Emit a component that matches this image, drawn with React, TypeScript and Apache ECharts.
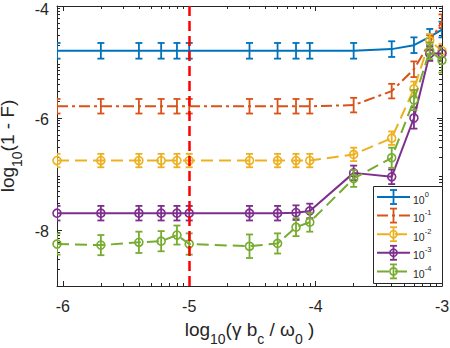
import React, { useEffect, useRef } from 'react';
import * as echarts from 'echarts';

// x positions: log10(gamma b_c / omega_0)
const X_VALUES = [-6.046, -5.699, -5.398, -5.222, -5.097, -5, -4.523, -4.301, -4.155, -4.046, -3.699, -3.398, -3.222, -3.097, -3];

// log10(1 - F) per series (legend 10^0 ... 10^-4)
const Y_E0 = [-4.8, -4.8, -4.8, -4.8, -4.8, -4.8, -4.8, -4.8, -4.8, -4.8, -4.8, -4.77, -4.7, -4.55, -4.42];
const ERR_E0 = [0.14, 0.14, 0.14, 0.14, 0.14, 0.14, 0.14, 0.14, 0.14, 0.14, 0.14, 0.14, 0.14, 0.14, 0.14];

const Y_E1 = [-5.79, -5.79, -5.79, -5.79, -5.79, -5.79, -5.79, -5.79, -5.79, -5.79, -5.77, -5.52, -5.13, -4.65, -4.27];
const ERR_E1 = [0.13, 0.13, 0.13, 0.13, 0.13, 0.13, 0.13, 0.13, 0.13, 0.13, 0.13, 0.13, 0.14, 0.13, 0.12];

const Y_E2 = [-6.76, -6.76, -6.76, -6.76, -6.76, -6.76, -6.76, -6.76, -6.76, -6.76, -6.65, -6.36, -5.48, -4.62, -4.8];
const ERR_E2 = [0.12, 0.12, 0.12, 0.12, 0.12, 0.12, 0.12, 0.12, 0.12, 0.12, 0.12, 0.12, 0.13, 0.12, 0.12];

const Y_E3 = [-7.7, -7.7, -7.7, -7.7, -7.7, -7.7, -7.7, -7.7, -7.69, -7.66, -6.98, -7.05, -6.0, -4.85, -4.85];
const ERR_E3 = [0.13, 0.13, 0.13, 0.13, 0.13, 0.13, 0.13, 0.13, 0.13, 0.13, 0.13, 0.13, 0.19, 0.13, 0.13];

const Y_E4 = [-8.25, -8.27, -8.22, -8.2, -8.09, -8.25, -8.29, -8.24, -7.95, -7.86, -7.08, -6.71, -5.68, -4.8, -4.97];
const ERR_E4 = [0.19, 0.18, 0.19, 0.18, 0.17, 0.19, 0.21, 0.18, 0.16, 0.17, 0.15, 0.18, 0.18, 0.15, 0.22];

const LEGEND_EXPONENTS = ['0', '-1', '-2', '-3', '-4'];

const X_TICKS = [-6, -5, -4, -3];
const Y_TICKS = [-8, -6, -4];
const X_MIN = -6.046;
const X_MAX = -3;
const Y_MIN = -9;
const Y_MAX = -4;
const THRESHOLD_X = -5;

const MINOR_MULTIPLIERS = [2, 3, 4, 5, 6, 7, 8, 9];

const COLORS = ['#0072BD', '#D95319', '#EDB120', '#7E2F8E', '#77AC30'];
const DASHES: (number[] | 'solid')[] = ['solid', [11, 4, 3, 4], [12, 6], 'solid', [12, 6]];
const MARKERS = [false, false, true, true, true];

const FONT = "'Liberation Sans', Arial, Helvetica, sans-serif";
const AXIS_COLOR = '#262626';

function logMinor(fromDecade: number, toDecade: number, lo: number, hi: number) {
  const out: number[] = [];
  for (let d = fromDecade; d <= toDecade; d++) {
    for (const k of MINOR_MULTIPLIERS) {
      const v = d + Math.log10(k);
      if (v > lo + 1e-6 && v < hi - 1e-6) out.push(v);
    }
  }
  return out;
}

export default function App() {
  const ref = useRef<HTMLDivElement>(null);

  useEffect(() => {
    if (!ref.current) return;
    const chart = echarts.init(ref.current, undefined, { renderer: 'svg' });

    const ys = [Y_E0, Y_E1, Y_E2, Y_E3, Y_E4];
    const errs = [ERR_E0, ERR_E1, ERR_E2, ERR_E3, ERR_E4];

    const xMinor = logMinor(-7, -4, X_MIN, X_MAX);
    const yMinor = logMinor(-10, -5, Y_MIN, Y_MAX);

    const series: any[] = [];
    ys.forEach((yArr, si) => {
      const color = COLORS[si];
      series.push({
        type: 'custom',
        xAxisIndex: 0,
        yAxisIndex: 0,
        clip: true,
        z: 2 + si,
        data: X_VALUES.map((x, i) => [x, yArr[i], errs[si][i]]),
        encode: { x: 0, y: 1 },
        renderItem: (params: any, api: any) => {
          const x = api.value(0);
          const y = api.value(1);
          const e = api.value(2);
          const top = api.coord([x, y + e]);
          const bot = api.coord([x, y - e]);
          const cap = 3.5;
          const style = { stroke: color, lineWidth: 1.8, fill: 'none' };
          return {
            type: 'group',
            children: [
              { type: 'line', shape: { x1: top[0], y1: top[1], x2: bot[0], y2: bot[1] }, style },
              { type: 'line', shape: { x1: top[0] - cap, y1: top[1], x2: top[0] + cap, y2: top[1] }, style },
              { type: 'line', shape: { x1: bot[0] - cap, y1: bot[1], x2: bot[0] + cap, y2: bot[1] }, style },
            ],
          };
        },
      });
      series.push({
        type: 'line',
        xAxisIndex: 0,
        yAxisIndex: 0,
        z: 2 + si,
        data: X_VALUES.map((x, i) => [x, yArr[i]]),
        symbol: MARKERS[si] ? 'circle' : 'none',
        symbolSize: 8,
        showSymbol: MARKERS[si],
        lineStyle: { color, width: 2, type: DASHES[si] as any },
        itemStyle: { color: 'rgba(0,0,0,0)', borderColor: color, borderWidth: 1.6 },
        emphasis: { disabled: true },
      });
    });

    series.push({
      type: 'line',
      xAxisIndex: 0,
      yAxisIndex: 0,
      data: [],
      z: 20,
      markLine: {
        silent: true,
        symbol: ['none', 'none'],
        label: { show: false },
        lineStyle: { color: '#FF0000', width: 2.5, type: [10, 5] },
        data: [{ xAxis: THRESHOLD_X }],
        z: 20,
      },
    });

    const axisLine = { show: true, onZero: false, lineStyle: { color: AXIS_COLOR, width: 1 } };
    const tickStyle = { color: AXIS_COLOR, width: 1 };
    const labelStyle = { color: AXIS_COLOR, fontSize: 16, lineHeight: 12, fontFamily: FONT };

    const titleRich = {
      t: { fontSize: 19, lineHeight: 22, verticalAlign: 'top', fontFamily: FONT, color: AXIS_COLOR },
      s: { fontSize: 14, lineHeight: 12, verticalAlign: 'top', padding: [12, 0, 0, 0], fontFamily: FONT, color: AXIS_COLOR },
    };

    const yLabelRich = {
      n: { fontSize: 16, lineHeight: 12, padding: [3, 0, 0, 0], fontFamily: FONT, color: AXIS_COLOR },
      top: { fontSize: 16, lineHeight: 12, padding: [6, 0, 0, 0], fontFamily: FONT, color: AXIS_COLOR },
    };

    const xBase = { type: 'value', min: X_MIN, max: X_MAX, splitLine: { show: false } };
    const yBase = { type: 'value', min: Y_MIN, max: Y_MAX, splitLine: { show: false } };

    const legendElements: any[] = [];
    const lgX = 373;
    const lgY = 186;
    legendElements.push({
      type: 'rect',
      z: 100,
      shape: { x: lgX + 0.5, y: lgY + 0.5, width: 69, height: 97 },
      style: { fill: '#fff', stroke: AXIS_COLOR, lineWidth: 1 },
    });
    LEGEND_EXPONENTS.forEach((ex, i) => {
      const cy = lgY + 11 + i * 18.6;
      const color = COLORS[i];
      const x1 = lgX + 4;
      const x2 = lgX + 37;
      const cx = (x1 + x2) / 2;
      legendElements.push({
        type: 'line',
        z: 101,
        shape: { x1, y1: cy, x2, y2: cy },
        style: { stroke: color, lineWidth: 2, lineDash: DASHES[i] === 'solid' ? null : DASHES[i] },
      });
      const st = { stroke: color, lineWidth: 1.8 };
      legendElements.push({ type: 'line', z: 101, shape: { x1: cx, y1: cy - 7, x2: cx, y2: cy + 7 }, style: st });
      legendElements.push({ type: 'line', z: 101, shape: { x1: cx - 3.5, y1: cy - 7, x2: cx + 3.5, y2: cy - 7 }, style: st });
      legendElements.push({ type: 'line', z: 101, shape: { x1: cx - 3.5, y1: cy + 7, x2: cx + 3.5, y2: cy + 7 }, style: st });
      if (MARKERS[i]) {
        legendElements.push({
          type: 'circle',
          z: 101,
          shape: { cx, cy, r: 3.6 },
          style: { fill: 'none', stroke: color, lineWidth: 1.6 },
        });
      }
      legendElements.push({
        type: 'text',
        z: 101,
        x: lgX + 40,
        y: cy - 1,
        style: {
          text: `{t|10}{u|${ex}}`,
          fill: AXIS_COLOR,
          align: 'left',
          verticalAlign: 'middle',
          rich: {
            t: { fontSize: 10.5, lineHeight: 12, padding: [4, 0, 0, 0], verticalAlign: 'top', fontFamily: FONT, fill: AXIS_COLOR },
            u: { fontSize: 7.5, lineHeight: 8, verticalAlign: 'top', fontFamily: FONT, fill: AXIS_COLOR },
          },
        },
      });
    });

    chart.setOption({
      animation: false,
      backgroundColor: '#ffffff',
      grid: { left: 57, right: 8, top: 6, bottom: 62, containLabel: false, outerBoundsMode: 'none' },
      xAxis: [
        {
          ...xBase,
          position: 'bottom',
          axisLine,
          axisTick: { show: true, inside: true, length: 5, customValues: X_TICKS, lineStyle: tickStyle },
          axisLabel: { ...labelStyle, margin: 14, customValues: X_TICKS },
          name: '{t|log}{s|10}{t|(γ b}{s|c}{t| / ω}{s|0}{t| )}',
          nameLocation: 'middle',
          nameGap: 34,
          nameTextStyle: { rich: titleRich, fontFamily: FONT, color: AXIS_COLOR },
        },
        {
          ...xBase,
          position: 'top',
          axisLine,
          axisTick: { show: true, inside: true, length: 5, customValues: X_TICKS, lineStyle: tickStyle },
          axisLabel: { show: false },
        },
        {
          ...xBase,
          position: 'bottom',
          axisLine: { show: false },
          axisTick: { show: true, inside: true, length: 3, customValues: xMinor, lineStyle: tickStyle },
          axisLabel: { show: false },
        },
        {
          ...xBase,
          position: 'top',
          axisLine: { show: false },
          axisTick: { show: true, inside: true, length: 3, customValues: xMinor, lineStyle: tickStyle },
          axisLabel: { show: false },
        },
      ],
      yAxis: [
        {
          ...yBase,
          position: 'left',
          axisLine,
          axisTick: { show: true, inside: true, length: 5, customValues: Y_TICKS, lineStyle: tickStyle },
          axisLabel: {
            ...labelStyle,
            margin: 8,
            customValues: Y_TICKS,
            formatter: (v: number) => (v === Y_MAX ? `{top|${v}}` : `{n|${v}}`),
            rich: yLabelRich,
          },
          name: '{t|log}{s|10}{t|(1 - F)}',
          nameLocation: 'middle',
          nameGap: 29,
          nameRotate: 90,
          nameTextStyle: { rich: titleRich, fontFamily: FONT, color: AXIS_COLOR },
        },
        {
          ...yBase,
          position: 'right',
          axisLine,
          axisTick: { show: true, inside: true, length: 5, customValues: Y_TICKS, lineStyle: tickStyle },
          axisLabel: { show: false },
        },
        {
          ...yBase,
          position: 'left',
          axisLine: { show: false },
          axisTick: { show: true, inside: true, length: 3, customValues: yMinor, lineStyle: tickStyle },
          axisLabel: { show: false },
        },
        {
          ...yBase,
          position: 'right',
          axisLine: { show: false },
          axisTick: { show: true, inside: true, length: 3, customValues: yMinor, lineStyle: tickStyle },
          axisLabel: { show: false },
        },
      ],
      graphic: { elements: legendElements },
      series,
    });

    return () => {
      chart.dispose();
    };
  }, []);

  return (
    <div
      ref={ref}
      style={{ position: 'absolute', left: 0, top: 0, width: 450, height: 348, background: '#fff' }}
    />
  );
}
